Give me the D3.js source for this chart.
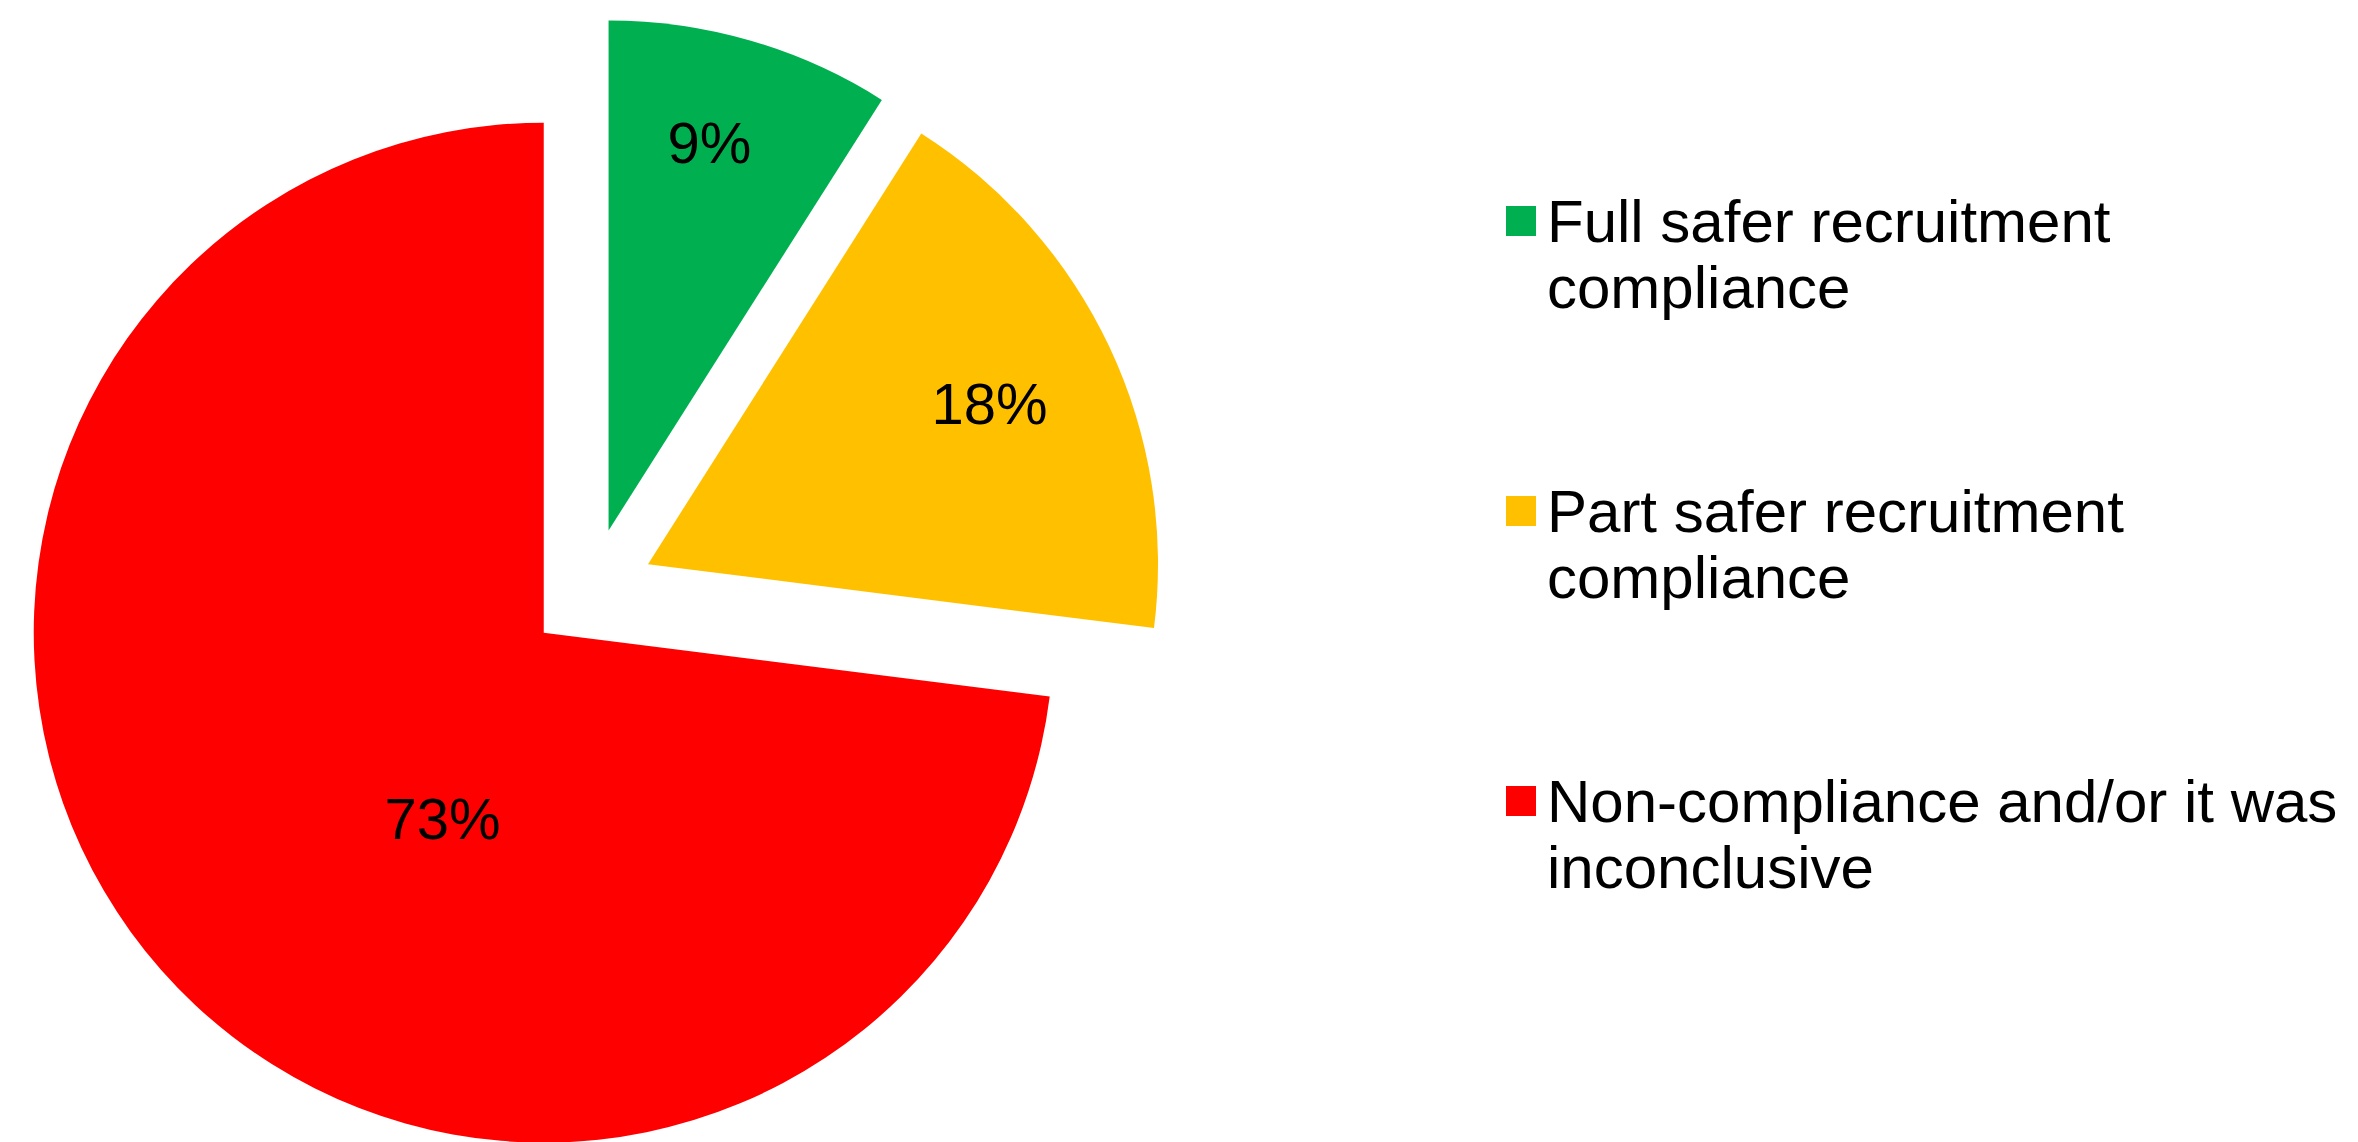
<!DOCTYPE html>
<html>
<head>
<meta charset="utf-8">
<script src="https://cdn.jsdelivr.net/npm/d3@7"></script>
<style>
  body { margin: 0; background: #fff; }
  text { font-family: "Liberation Sans", Arial, sans-serif; fill: #000; }
</style>
</head>
<body>
<div id="chart"></div>
<script>
// data
var categories = ["Full safer recruitment compliance", "Part safer recruitment compliance", "Non-compliance and/or it was inconclusive"];
var legendLines = [["Full safer recruitment", "compliance"], ["Part safer recruitment", "compliance"], ["Non-compliance and/or it was", "inconclusive"]];
var values = [9, 18, 73];
var colors = ["#00B050", "#FFC000", "#FF0000"];

var svgWidth = 2358;
var svgHeight = 1142;

var center = { x: 591, y: 591 };
var radius = 510;
var explode = 63;

// label placement per slice: fraction of radius and angular nudge (deg)
var labelStyle = [
  { r: 0.785, turn: -1.6 },
  { r: 0.74, turn: 0 },
  { r: 0.415, turn: -20 }
];

var svg = d3
  .select("#chart")
  .append("svg")
  .attr("width", svgWidth)
  .attr("height", svgHeight);

var pie = d3.pie()
  .sort(null)
  .value(d => d);

var arcs = pie(values);

var arc = d3.arc()
  .innerRadius(0)
  .outerRadius(radius);

var explodeArc = d3.arc()
  .innerRadius(explode)
  .outerRadius(explode);

var pieGroup = svg.append("g")
  .attr("transform", `translate(${center.x}, ${center.y})`);

var slices = pieGroup.selectAll("g.slice")
  .data(arcs)
  .enter()
  .append("g")
  .attr("class", "slice")
  .attr("transform", d => `translate(${explodeArc.centroid(d)})`);

slices.append("path")
  .attr("d", arc)
  .attr("fill", (d, i) => colors[i]);

slices.append("text")
  .attr("x", function(d, i) {
    var a = (d.startAngle + d.endAngle) / 2 + labelStyle[i].turn * Math.PI / 180;
    return Math.sin(a) * radius * labelStyle[i].r;
  })
  .attr("y", function(d, i) {
    var a = (d.startAngle + d.endAngle) / 2 + labelStyle[i].turn * Math.PI / 180;
    return -Math.cos(a) * radius * labelStyle[i].r;
  })
  .attr("dy", "0.35em")
  .attr("text-anchor", "middle")
  .attr("font-size", "58px")
  .text(d => d.value + "%");

// legend
var legendY = d3.scalePoint()
  .domain(categories)
  .range([242, 822]);

var legend = svg.append("g")
  .attr("transform", "translate(1506, 0)");

var items = legend.selectAll("g")
  .data(categories)
  .enter()
  .append("g")
  .attr("transform", d => `translate(0, ${legendY(d)})`);

items.append("rect")
  .attr("x", 0)
  .attr("y", -36)
  .attr("width", 30)
  .attr("height", 30)
  .attr("fill", (d, i) => colors[i]);

items.append("text")
  .attr("font-size", "60px")
  .selectAll("tspan")
  .data((d, i) => legendLines[i])
  .enter()
  .append("tspan")
  .attr("x", 41)
  .attr("y", (d, j) => j * 66)
  .text(d => d);
</script>
</body>
</html>
